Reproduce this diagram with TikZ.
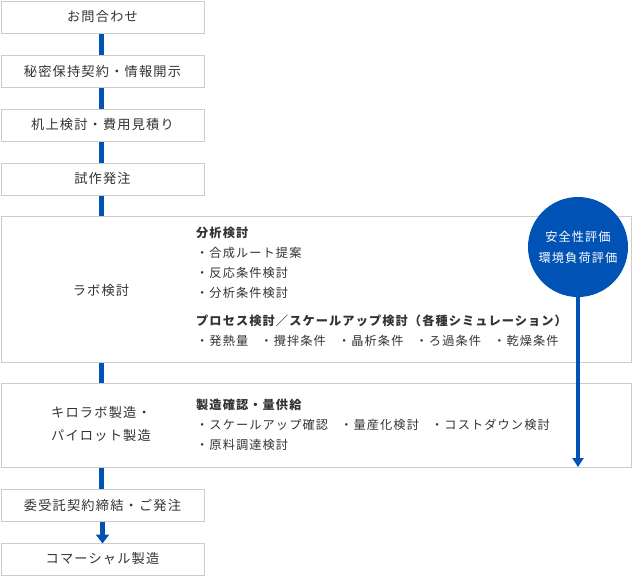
\documentclass[tikz,border=0pt]{standalone}
\usepackage{fontspec}
\setmainfont{Noto Sans CJK JP}[LetterSpace=9]
\usetikzlibrary{arrows.meta}
\definecolor{bl}{HTML}{0152B5}
\definecolor{bd}{HTML}{CCCCCC}
\definecolor{tx}{HTML}{333333}
\begin{document}
\begin{tikzpicture}[x=1pt,y=-1pt,
 box/.style={draw=bd,line width=1pt,fill=white,text=tx,font=\fontsize{13.2}{15}\selectfont},
 conn/.style={bl,line width=5pt},
 t/.style={anchor=west,text=tx,font=\fontsize{12.2}{14}\selectfont,inner sep=0},
 h/.style={t,font=\fontsize{12.2}{14}\selectfont\bfseries}]
\useasboundingbox (0,0) rectangle (633,576);
\draw[conn] (101,33) -- (101,55);
\draw[conn] (101,87) -- (101,109);
\draw[conn] (101,141) -- (101,163);
\draw[conn] (101,195) -- (101,216);
\draw[conn] (101,362) -- (101,383);
\draw[conn] (101,467) -- (101,489);
\node[box,minimum width=203,minimum height=32] (b1) at (102.5,17) {お問合わせ};
\node[box,minimum width=203,minimum height=32] (b2) at (102.5,71) {秘密保持契約・情報開示};
\node[box,minimum width=203,minimum height=32] (b3) at (102.5,125) {机上検討・費用見積り};
\node[box,minimum width=203,minimum height=32] (b4) at (102.5,179) {試作発注};
\node[box,minimum width=630,minimum height=146] (b5) at (316,289) {};
\node[text=tx,font=\fontsize{13.2}{15}\selectfont] (l5) at (101,291) {ラボ検討};
\node[box,minimum width=630,minimum height=84] (b6) at (316,425) {};
\node[text=tx,font=\fontsize{13.2}{15}\selectfont,align=center] (l6) at (101,424) {キロラボ製造・\\[8pt]パイロット製造};
\node[box,minimum width=203,minimum height=32] (b7) at (102.5,505) {委受託契約締結・ご発注};
\node[box,minimum width=203,minimum height=32] (b8) at (102.5,559) {コマーシャル製造};
\draw[bl,line width=5pt,-{Triangle[length=9pt,width=13pt]}] (b7.south) -- ([yshift=-1pt]b8.north);
\node[h] (s1) at (196,233) {分析検討};
\node[t] at (196,253) {・合成ルート提案};
\node[t] at (196,273) {・反応条件検討};
\node[t] at (196,293) {・分析条件検討};
\node[h] at (196,321) {プロセス検討／スケールアップ検討（各種シミュレーション）};
\node[t] at (196,341) {・発熱量\quad ・攪拌条件\quad ・晶析条件\quad ・ろ過条件\quad ・乾燥条件};
\node[h] at (196,405) {製造確認・量供給};
\node[t] at (196,425) {・スケールアップ確認\quad ・量産化検討\quad ・コストダウン検討};
\node[t] at (196,445) {・原料調達検討};
\node[circle,fill=bl,minimum size=100,text=white,align=center,font=\fontsize{12.2}{14}\selectfont] (c) at (578,247) {安全性評価\\[7pt]環境負荷評価};
\coordinate (e) at (578,467);
\draw[bl,line width=3.5pt,-{Triangle[length=9pt,width=11pt]}] (c.south) -- (e);
\end{tikzpicture}
\end{document}
